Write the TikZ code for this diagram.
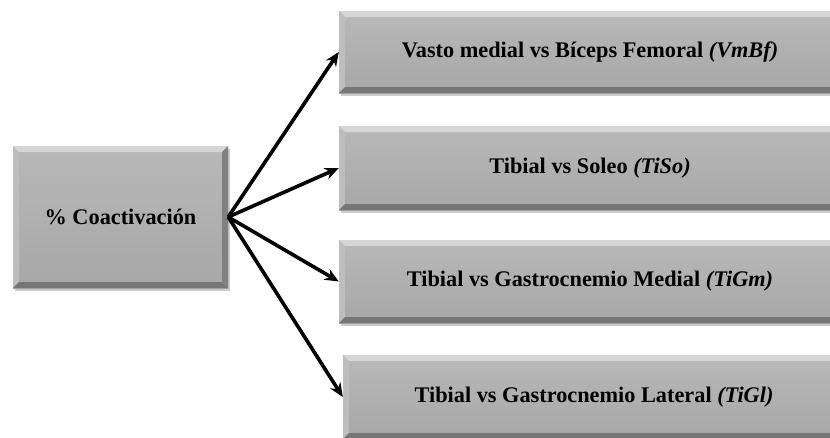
\documentclass[tikz,border=0pt]{standalone}
\usepackage{fontspec}
\setmainfont{Liberation Serif}
\usetikzlibrary{arrows.meta,shadows}

\definecolor{cajagris}{HTML}{B2B2B2}
\definecolor{cajaclara}{HTML}{D6D6D6}
\definecolor{cajaoscura}{HTML}{767676}

\tikzset{
  caja/.style={rectangle, inner sep=0pt, top color=cajagris!92!white, bottom color=cajagris!94!black,
    drop shadow={shadow xshift=2pt, shadow yshift=-3pt, fill=black!45, opacity=.45},
    font=\fontsize{22.3}{26}\selectfont\bfseries,
    path picture={
      \fill[cajaclara] (path picture bounding box.north west) -- (path picture bounding box.north east)
        -- ([shift={(-6pt,-6pt)}]path picture bounding box.north east) -- ([shift={(6pt,-6pt)}]path picture bounding box.north west) -- cycle;
      \fill[cajagris!85!white] (path picture bounding box.north west) -- ([shift={(6pt,-6pt)}]path picture bounding box.north west)
        -- ([shift={(6pt,6pt)}]path picture bounding box.south west) -- (path picture bounding box.south west) -- cycle;
      \fill[cajaoscura] (path picture bounding box.south west) -- (path picture bounding box.south east)
        -- ([shift={(-6pt,6pt)}]path picture bounding box.south east) -- ([shift={(6pt,6pt)}]path picture bounding box.south west) -- cycle;
      \fill[cajagris!72!black] (path picture bounding box.north east) -- ([shift={(-6pt,-6pt)}]path picture bounding box.north east)
        -- ([shift={(-6pt,6pt)}]path picture bounding box.south east) -- (path picture bounding box.south east) -- cycle;
    }},
  flecha/.style={-{Stealth[length=14pt,width=12pt]}, line width=3.6pt, black}
}

\begin{document}
\begin{tikzpicture}[x=1pt, y=-1pt]
  \useasboundingbox (0,0) rectangle (830,437);
  \clip (0,0) rectangle (830,437);

  \node[caja, minimum width=215pt, minimum height=142pt] (coact) at (120.5,217) {\% Coactivación};

  \node[caja, minimum width=502pt, minimum height=82pt] (vmbf) at (590,52) {Vasto medial vs Bíceps Femoral \textit{(VmBf)}};
  \node[caja, minimum width=502pt, minimum height=84pt] (tiso) at (590,168) {Tibial vs Soleo \textit{(TiSo)}};
  \node[caja, minimum width=502pt, minimum height=83pt] (tigm) at (590,281.5) {Tibial vs Gastrocnemio Medial \textit{(TiGm)}};
  \node[caja, minimum width=502pt, minimum height=84pt] (tigl) at (594,397) {Tibial vs Gastrocnemio Lateral \textit{(TiGl)}};

  \draw[flecha] (coact.east) -- (vmbf.west);
  \draw[flecha] (coact.east) -- (tiso.west);
  \draw[flecha] (coact.east) -- (tigm.west);
  \draw[flecha] (coact.east) -- (tigl.west);

\end{tikzpicture}
\end{document}
